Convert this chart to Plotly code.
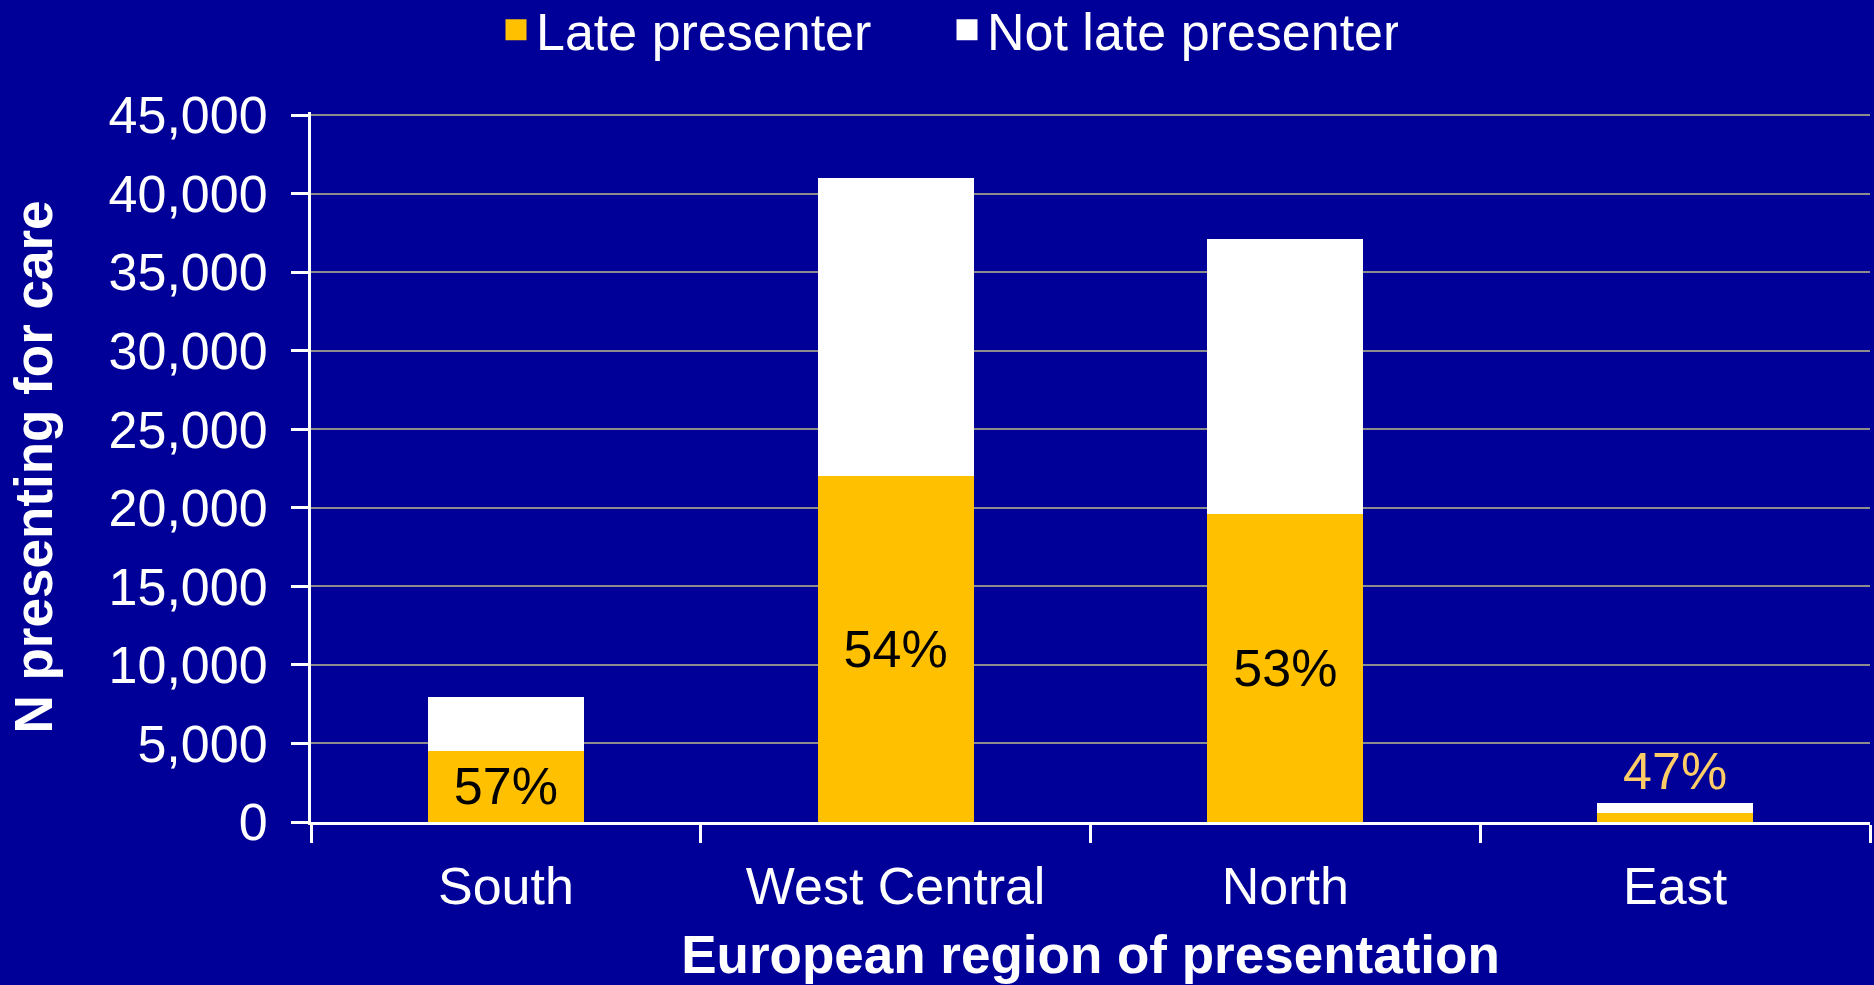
import plotly.graph_objects as go

# ---- data ----
regions = ["South", "West Central", "North", "East"]
late = [4530, 22050, 19600, 570]
not_late = [3400, 18950, 17500, 630]
late_pct_labels = ["57%", "54%", "53%", "47%"]
y_tick_vals = [0, 5000, 10000, 15000, 20000, 25000, 30000, 35000, 40000, 45000]

# ---- style ----
BG = "#000099"
GOLD = "#FFC000"
LIGHT_GOLD = "#FFCC66"
WHITE = "#FFFFFF"
FONT = "Liberation Sans, Arial, sans-serif"

inside_text = [t if i < 3 else "" for i, t in enumerate(late_pct_labels)]
outside_text = ["" if i < 3 else t for i, t in enumerate(late_pct_labels)]

fig = go.Figure()
fig.add_trace(go.Bar(
    x=regions, y=late, name="Late presenter", showlegend=False,
    marker=dict(color=GOLD, line=dict(width=0)),
    text=inside_text, textposition="inside", insidetextanchor="middle",
    textangle=0, constraintext="none",
    textfont=dict(color="black", size=52, family=FONT),
))
fig.add_trace(go.Bar(
    x=regions, y=not_late, name="Not late presenter", showlegend=False,
    marker=dict(color=WHITE, line=dict(width=0)),
    text=outside_text, textposition="outside", textangle=0, constraintext="none",
    cliponaxis=False,
    textfont=dict(color=LIGHT_GOLD, size=52, family=FONT),
))
# legend entries
for nm, col in [("Late presenter", GOLD), ("Not late presenter", WHITE)]:
    fig.add_trace(go.Scatter(
        x=[None], y=[None], mode="markers", name=nm,
        marker=dict(symbol="square", size=16, color=col, line=dict(color=col, width=5)),
    ))

fig.update_layout(
    width=1874, height=985,
    barmode="stack", bargap=0.6,
    paper_bgcolor=BG, plot_bgcolor=BG,
    font=dict(family=FONT, color=WHITE, size=52),
    margin=dict(l=311, r=4, t=112, b=163, autoexpand=False),
    legend=dict(
        orientation="h", xref="container", yref="container", traceorder="normal",
        x=496 / 1874, xanchor="left", y=1 - 30 / 985, yanchor="middle",
        font=dict(size=52, color=WHITE, family=FONT),
        bgcolor="rgba(0,0,0,0)", entrywidth=406, entrywidthmode="pixels",
    ),
    xaxis=dict(
        type="category", tickson="boundaries", ticks="outside", ticklen=18,
        tickwidth=3, tickcolor=WHITE, showline=True, linecolor=WHITE, linewidth=3,
        showgrid=False, tickfont=dict(size=52, color=WHITE), ticklabelstandoff=17,
        title=dict(text="<b>European region of presentation</b>",
                   font=dict(size=53, color=WHITE), standoff=22),
        automargin=False,
    ),
    yaxis=dict(
        range=[0, 45200], tickvals=y_tick_vals, tickformat=",",
        ticks="outside", ticklen=17, tickwidth=3, tickcolor=WHITE,
        showline=True, linecolor=WHITE, linewidth=3, ticklabelstandoff=13,
        showgrid=True, gridcolor="#8C8C8C", gridwidth=2, zeroline=False,
        tickfont=dict(size=52, color=WHITE),
        title=dict(text="<b>N presenting for care</b>",
                   font=dict(size=53, color=WHITE), standoff=40),
        automargin=False,
    ),
)

fig.write_html(
    "out.html",
    config={"displayModeBar": False},
    post_script="document.body.style.margin='0';document.body.style.background='#000099';",
)
